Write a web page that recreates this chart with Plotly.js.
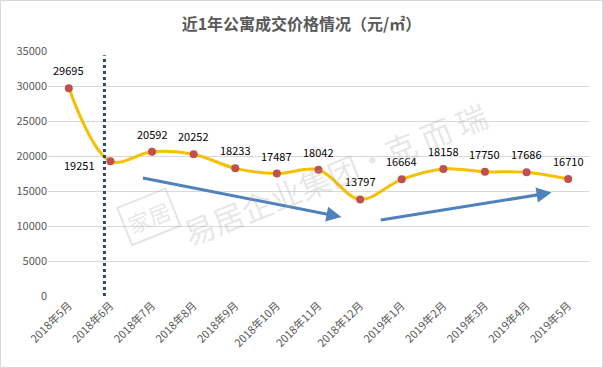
<!DOCTYPE html>
<html><head><meta charset="utf-8">
<script src="https://cdn.plot.ly/plotly-3.0.1.min.js"></script>
<style>html,body{margin:0;padding:0;background:#fff}#wrap{position:relative;width:603px;height:368px}#chart{width:603px;height:368px}#frame{position:absolute;left:0;top:0;width:603px;height:368px;box-sizing:border-box;border:1px solid #d9d9d9;pointer-events:none}</style>
</head><body><div id="wrap"><div id="chart"></div><div id="frame"></div></div>
<script>
const categories = ["2018年5月","2018年6月","2018年7月","2018年8月","2018年9月","2018年10月","2018年11月","2018年12月","2019年1月","2019年2月","2019年3月","2019年4月","2019年5月"];
const prices = [29695,19251,20592,20252,18233,17487,18042,13797,16664,18158,17750,17686,16710];
const yTicks = [0,5000,10000,15000,20000,25000,30000,35000];
// trend arrows: [startIndex, startValue, endIndex, endValue]
const trendArrows = [[1.745,16900,6.55,11290],[7.46,10810,11.6,14770]];
const dividerIndex = 0.856;

const idx = categories.map((c,i)=>i);
const font = "'Noto Sans CJK SC','Noto Sans',sans-serif";

const annotations = prices.map((v,i)=>({
  x:i, y:v, xref:'x', yref:'y', text:String(v), showarrow:false,
  yshift: i===1 ? -4 : 18, xshift: i===1 ? -31 : 0,
  font:{family:font,size:11,color:'#000'}
}));
trendArrows.forEach(a=>annotations.push({
  x:a[2], y:a[3], ax:a[0], ay:a[1], xref:'x', yref:'y', axref:'x', ayref:'y',
  text:'', showarrow:true, arrowhead:2, arrowsize:1, arrowwidth:3, arrowcolor:'#4F81BD'
}));
annotations.push({x:0.53,y:0.5,xref:'paper',yref:'paper',text:'易居企业集团•克 而 瑞',showarrow:false,textangle:-22,
  font:{family:font,size:31,color:'rgba(170,170,170,0.28)'}});
annotations.push({x:0.125,y:0.2,xref:'paper',yref:'paper',text:'家居',showarrow:false,textangle:-22,
  bordercolor:'rgba(170,170,170,0.3)',borderwidth:2,borderpad:3,
  font:{family:font,size:22,color:'rgba(170,170,170,0.28)'}});

const trace = {
  x: idx, y: prices, type:'scatter', mode:'lines+markers',
  line:{shape:'spline',smoothing:1,color:'#F5C000',width:3},
  marker:{color:'#C0504D',size:8},
  hoverinfo:'none'
};
const layout = {
  width:603, height:368,
  margin:{l:48,r:14,t:51,b:72},
  paper_bgcolor:'#fff', plot_bgcolor:'#fff',
  showlegend:false,
  title:{text:'<b>近1年公寓成交价格情况（元/㎡）</b>', x:0.5, xanchor:'center', y:0.935, yanchor:'middle',
    font:{family:font,size:16,color:'#595959'}},
  xaxis:{range:[-0.5,12.5], tickvals:idx, ticktext:categories, tickangle:-45,
    showgrid:false, zeroline:false, showline:false, ticks:'',
    tickfont:{family:font,size:11,color:'#595959'}},
  yaxis:{range:[0,35000], tickvals:yTicks, ticktext:yTicks.map(String),
    showgrid:true, gridcolor:'#d9d9d9', gridwidth:1, zeroline:false, showline:false, ticks:'',
    tickfont:{family:font,size:11,color:'#595959'}},
  shapes:[{type:'line',xref:'x',yref:'y',x0:dividerIndex,x1:dividerIndex,y0:0,y1:34400,
    line:{color:'#2B4A72',width:3,dash:'dot'}}],
  annotations: annotations
};
Plotly.newPlot('chart',[trace],layout,{displayModeBar:false,staticPlot:true});
</script></body></html>
